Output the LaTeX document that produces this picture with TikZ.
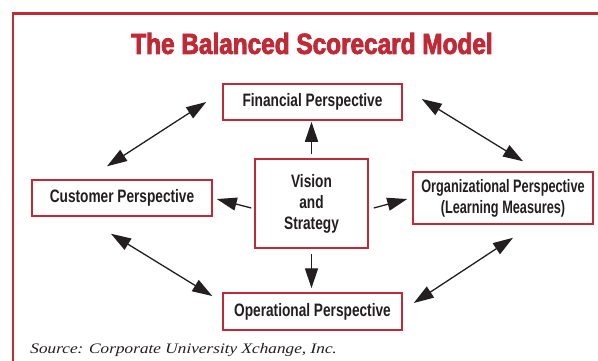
\documentclass[tikz,border=0pt]{standalone}
\usepackage{fontspec}
\usetikzlibrary{arrows.meta}

\newfontfamily\titlefont{Liberation Sans}[FakeStretch=0.84,FakeBold=2.8]
\newfontfamily\boxfont{Liberation Sans}[FakeStretch=0.76]
\newfontfamily\srcfont{Liberation Serif}[FakeStretch=1.19,FakeSlant=0.05]

\definecolor{sbred}{HTML}{C02A36}
\definecolor{sbink}{HTML}{231F20}

\tikzset{
  panel/.style={draw=sbred, line width=1.5pt, fill=white, inner sep=0pt,
    text=sbink, align=center,
    font=\boxfont\bfseries\fontsize{18}{21}\selectfont},
  link/.style={draw=sbink, line width=1.3pt,
    -{Triangle[length=20pt,width=13pt]}},
  dlink/.style={draw=sbink, line width=1.3pt,
    {Triangle[length=20pt,width=13pt]}-{Triangle[length=20pt,width=13pt]}},
}

\begin{document}
\begin{tikzpicture}[x=1pt, y=-1pt]
  \useasboundingbox (0,0) rectangle (598,360);
  \clip (0,0) rectangle (598,360);
  \fill[white] (0,0) rectangle (598,360);

  % outer frame
  \draw[sbred, line width=2.4pt] (12.7,380) -- (12.7,13.4) -- (620,13.4);

  % title
  \node[text=sbred, font=\titlefont\bfseries\fontsize{29}{31}\selectfont]
    (title) at (312,43.5) {The Balanced Scorecard Model};

  % perspectives
  \node[panel, minimum width=179pt, minimum height=36pt] (fin) at (312.5,102)
    {Financial Perspective};
  \node[panel, minimum width=180pt, minimum height=36pt] (cust) at (122,198)
    {Customer Perspective};
  \node[panel, minimum width=113pt, minimum height=89pt] (vis) at (311.5,203.5)
    {Vision\\and\\Strategy};
  \node[panel, minimum width=180pt, minimum height=52pt] (org) at (503,198)
    {\scalebox{0.93}[1]{Organizational Perspective}\\\scalebox{0.93}[1]{(Learning Measures)}};
  \node[panel, minimum width=179pt, minimum height=37pt] (oper) at (312.5,311.5)
    {Operational Perspective};

  % vision and strategy drives each perspective
  \draw[link, shorten >=1pt] ([yshift=4pt]vis.north) -- (vis.north |- fin.south);
  \draw[link, shorten >=4pt] ([yshift=-5pt]vis.south) -- (vis.south |- oper.north);
  \draw[link] ([xshift=-3pt,yshift=-4.5pt]vis.west) -- ([xshift=4pt,yshift=-1pt]cust.east);
  \draw[link] ([xshift=5pt,yshift=-4.5pt]vis.east) -- ([xshift=-5pt,yshift=-1pt]org.west);

  % links between neighbouring perspectives
  \draw[dlink] ([xshift=-15pt,yshift=13pt]cust.north) -- ([xshift=-16pt]fin.west);
  \draw[dlink] ([xshift=19pt,yshift=3pt]fin.east) -- ([xshift=20pt,yshift=10pt]org.north);
  \draw[dlink] ([xshift=-11pt,yshift=-17pt]cust.south) -- ([xshift=-10pt,yshift=15.5pt]oper.west);
  \draw[dlink] ([xshift=11pt,yshift=8.5pt]oper.east) -- ([xshift=10pt,yshift=-13pt]org.south);

  % source line
  \node[anchor=base west, inner sep=0pt, text=sbink,
    font=\srcfont\itshape\fontsize{14.5}{16}\selectfont]
    (src) at (30,353) {Source: Corporate University Xchange, Inc.};
\end{tikzpicture}
\end{document}
